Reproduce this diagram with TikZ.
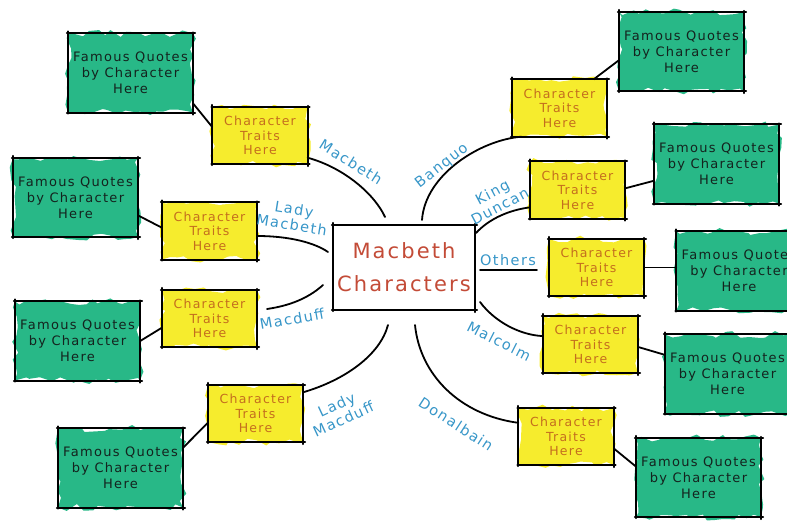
\documentclass[tikz,border=0pt]{standalone}
\usepackage{fontspec}
\setmainfont{DejaVu Sans}[LetterSpace=10]
\usetikzlibrary{decorations.pathmorphing}
\definecolor{qgreen}{RGB}{40,184,135}
\definecolor{tyellow}{RGB}{246,236,45}
\definecolor{qtext}{RGB}{20,35,30}
\definecolor{ttext}{RGB}{196,110,30}
\definecolor{lblue}{RGB}{55,150,200}
\definecolor{cred}{RGB}{195,75,55}
\begin{document}
\begin{tikzpicture}[x=1pt,y=-1pt,
  rough/.style={decorate, decoration={random steps, segment length=8pt, amplitude=3.5pt}},
  quote/.style={minimum width=125pt, minimum height=79pt,
    inner sep=0pt, align=center, text=qtext, font=\fontsize{13}{16}\selectfont,
    preaction={fill=qgreen, rough}},
  trait/.style={minimum width=95pt, minimum height=57pt,
    inner sep=0pt, align=center, text=ttext, font=\fontsize{12.5}{14.5}\selectfont,
    preaction={fill=tyellow, rough}},
  hub/.style={minimum width=142pt, minimum height=85pt,
    inner sep=0pt, align=center, text=cred, font=\fontsize{21}{33}\selectfont},
  lbl/.style={text=lblue, font=\fontsize{14.5}{16}\selectfont, align=center, inner sep=0pt},
  link/.style={line width=1.8pt, black, line cap=round},
  edge/.style={line width=1.8pt, black, line cap=round}
]
\pgfmathsetseed{7}
\useasboundingbox (0,0) rectangle (787,521);
\clip (0,0) rectangle (787,521);

% centre
\node[hub] (c) at (404,267.5) {Macbeth\\Characters};

% quote boxes
\node[quote] (q1) at (130.5,73) {Famous Quotes\\by Character\\Here};
\node[quote] (q2) at (75.5,197.5) {Famous Quotes\\by Character\\Here};
\node[quote] (q3) at (77.5,341) {Famous Quotes\\by Character\\Here};
\node[quote] (q4) at (120.5,468) {Famous Quotes\\by Character\\Here};
\node[quote] (q5) at (681.5,51.5) {Famous Quotes\\by Character\\Here};
\node[quote] (q6) at (716.5,164) {Famous Quotes\\by Character\\Here};
\node[quote] (q7) at (739,271) {Famous Quotes\\by Character\\Here};
\node[quote] (q8) at (727.5,374) {Famous Quotes\\by Character\\Here};
\node[quote] (q9) at (698.5,477.5) {Famous Quotes\\by Character\\Here};

% trait boxes
\node[trait] (t1) at (260,135.5) {Character\\Traits\\Here};
\node[trait] (t2) at (209.5,231) {Character\\Traits\\Here};
\node[trait] (t3) at (209.5,318.5) {Character\\Traits\\Here};
\node[trait] (t4) at (255.5,413.5) {Character\\Traits\\Here};
\node[trait] (t5) at (559.5,108) {Character\\Traits\\Here};
\node[trait] (t6) at (577.5,190) {Character\\Traits\\Here};
\node[trait] (t7) at (596.5,267.5) {Character\\Traits\\Here};
\node[trait] (t8) at (590.5,344.5) {Character\\Traits\\Here};
\node[trait] (t9) at (566,436.5) {Character\\Traits\\Here};

% sketchy outlines with slightly overshooting corners
\foreach \n in {c,q1,q2,q3,q4,q5,q6,q7,q8,q9,t1,t2,t3,t4,t5,t6,t7,t8,t9}{
  \draw[edge] ([xshift=-1pt]\n.north west) -- ([xshift=2pt]\n.north east);
  \draw[edge] ([yshift=1pt]\n.north east) -- ([yshift=-2pt]\n.south east);
  \draw[edge] ([xshift=2pt]\n.south east) -- ([xshift=-1pt]\n.south west);
  \draw[edge] ([yshift=-1pt]\n.south west) -- ([yshift=2pt]\n.north west);
}

% quote-trait links
\draw[link] (q1.-26) -- (t1.170);
\draw[link] (q2.-16) -- (t2.176);
\draw[link] (q3.east) -- (t3.-169);
\draw[link] (q4.18) -- (t4.-169);
\draw[link] (t5.40) -- (q5.188);
\draw[link] (t6.2) -- (q6.195);
\draw[link] (t7.east) -- (t7.east -| q7.west);
\draw[link] (t8.-3) -- (q8.163);
\draw[link] (t9.-14) -- (q9.170);

% free ends near the centre
\coordinate (m1) at (385,217);
\coordinate (m2) at (328,252);
\coordinate (m3a) at (267,309);
\coordinate (m3b) at (323,285);
\coordinate (m4) at (388,325);
\coordinate (m5) at (422,220);
\coordinate (m6) at (476,233);
\coordinate (m7a) at (480,270);
\coordinate (m7b) at (537,270);
\coordinate (m8) at (480,302);
\coordinate (m9) at (415,325);

% character branches
\draw[link] (t1.-25) .. controls (345,168) and (375,195) .. (m1);
\draw[link] (t2.-6) .. controls (290,236) and (315,243) .. (m2);
\draw[link] (m3a) .. controls (295,305) and (312,295) .. (m3b);
\draw[link] (t4.24) .. controls (345,380) and (380,355) .. (m4);
\draw[link] (m5) .. controls (425,175) and (480,140) .. (t5.217);
\draw[link] (m6) .. controls (490,218) and (510,210) .. (t6.200);
\draw[link] (m7a) -- (m7b);
\draw[link] (m8) .. controls (495,322) and (520,335) .. (t8.170);
\draw[link] (m9) .. controls (420,375) and (460,415) .. (t9.164);

% labels
\node[lbl, rotate=-32] (l1) at (351,162) {Macbeth};
\node[lbl, rotate=-9] (l2) at (293,217) {Lady\\Macbeth};
\node[lbl, rotate=10] (l3) at (292,319) {Macduff};
\node[lbl, rotate=25] (l4) at (340,412) {Lady\\Macduff};
\node[lbl, rotate=38] (l5) at (442,166) {Banquo};
\node[lbl, rotate=28] (l6) at (496,199) {King\\Duncan};
\node[lbl] (l7) at (508,260) {Others};
\node[lbl, rotate=-27] (l8) at (499,341) {Malcolm};
\node[lbl, rotate=-33] (l9) at (456,424) {Donalbain};
\end{tikzpicture}
\end{document}
